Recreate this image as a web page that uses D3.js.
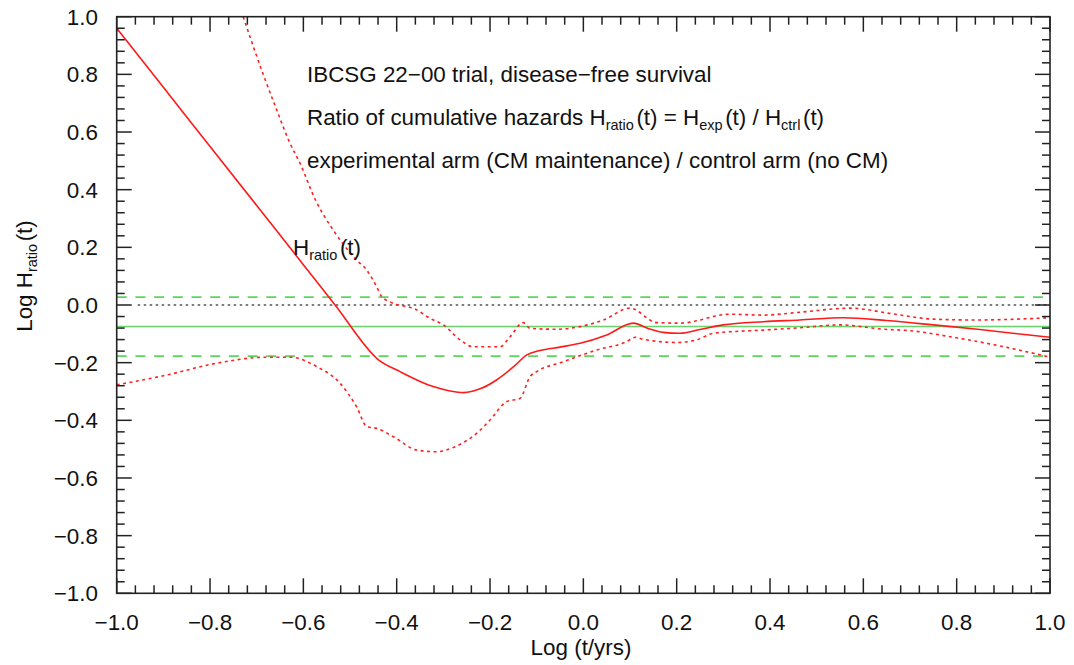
<!DOCTYPE html>
<html>
<head>
<meta charset="utf-8">
<script src="https://cdn.jsdelivr.net/npm/d3@7"></script>
<style>
  html, body { margin: 0; padding: 0; background: #fff; }
  svg text { font-family: "Liberation Sans", Arial, sans-serif; fill: #111; }
</style>
</head>
<body>
<svg id="chart" width="1074" height="665"></svg>
<script>
// Log cumulative-hazard ratio curve (x = log10 t in years)
const ratioX = [-1.0, -0.9, -0.8, -0.7, -0.6, -0.532, -0.439, -0.393, -0.322, -0.286, -0.257, -0.22, -0.186, -0.15, -0.121, -0.093, -0.05, -0.007, 0.05, 0.107, 0.14, 0.171, 0.207, 0.25, 0.3, 0.386, 0.464, 0.557, 0.65, 0.75, 0.85, 0.93, 1.0];
const ratioY = [0.96, 0.755, 0.55, 0.345, 0.14, 0.0, -0.19, -0.231, -0.283, -0.298, -0.304, -0.29, -0.26, -0.215, -0.173, -0.158, -0.146, -0.133, -0.104, -0.063, -0.082, -0.095, -0.098, -0.085, -0.069, -0.058, -0.052, -0.044, -0.054, -0.069, -0.085, -0.1, -0.112];

// Upper confidence band
const upperX = [-0.729, -0.687, -0.657, -0.629, -0.607, -0.574, -0.536, -0.486, -0.464, -0.443, -0.432, -0.414, -0.357, -0.329, -0.3, -0.264, -0.236, -0.179, -0.157, -0.129, -0.114, -0.057, -0.007, 0.043, 0.1, 0.157, 0.207, 0.314, 0.386, 0.464, 0.571, 0.664, 0.75, 0.843, 1.0];
const upperY = [1.0, 0.804, 0.676, 0.562, 0.491, 0.364, 0.26, 0.156, 0.121, 0.063, 0.029, 0.011, -0.017, -0.046, -0.069, -0.121, -0.145, -0.145, -0.11, -0.061, -0.081, -0.084, -0.075, -0.052, -0.011, -0.061, -0.063, -0.032, -0.035, -0.025, -0.011, -0.031, -0.049, -0.052, -0.044];

// Lower confidence band
const lowerX = [-1.0, -0.893, -0.786, -0.679, -0.629, -0.571, -0.521, -0.486, -0.464, -0.443, -0.407, -0.357, -0.314, -0.28, -0.221, -0.2, -0.164, -0.136, -0.114, -0.1, -0.043, 0.029, 0.093, 0.111, 0.129, 0.2, 0.243, 0.279, 0.386, 0.464, 0.55, 0.643, 0.7, 0.786, 0.893, 1.0];
const lowerY = [-0.277, -0.243, -0.202, -0.181, -0.181, -0.214, -0.272, -0.353, -0.422, -0.428, -0.457, -0.503, -0.509, -0.495, -0.434, -0.399, -0.335, -0.324, -0.248, -0.231, -0.197, -0.156, -0.127, -0.112, -0.119, -0.13, -0.121, -0.098, -0.087, -0.079, -0.069, -0.084, -0.089, -0.11, -0.142, -0.181];

// Reference levels: overall log ratio and its band, plus zero
const meanLevel = -0.075;
const bandLevels = [0.027, -0.177];
const zeroLevel = 0.0;

// Axis ticks
const xTicks = [-1.0, -0.8, -0.6, -0.4, -0.2, 0.0, 0.2, 0.4, 0.6, 0.8, 1.0];
const yTicks = [-1.0, -0.8, -0.6, -0.4, -0.2, 0.0, 0.2, 0.4, 0.6, 0.8, 1.0];

const svg = d3.select("#chart");
const L = 116.7, R = 1050, T = 16.7, B = 593.3;
const x = d3.scaleLinear().domain([-1, 1]).range([L, R]);
const y = d3.scaleLinear().domain([-1, 1]).range([B, T]);

const FS = 22.4, SUB = 14.5, SUBDY = 5;
const fmt = v => (v < 0 ? "\u2212" : "") + Math.abs(v).toFixed(1);

const plot = svg.append("g");
plot.append("clipPath").attr("id", "clip")
  .append("rect").attr("x", L).attr("y", T).attr("width", R - L).attr("height", B - T);
const inner = plot.append("g").attr("clip-path", "url(#clip)");

// Horizontal reference lines
inner.append("line").attr("x1", x(-0.955)).attr("x2", R)
  .attr("y1", y(zeroLevel)).attr("y2", y(zeroLevel))
  .attr("stroke", "#555").attr("stroke-width", 1.6).attr("stroke-dasharray", "2.5,3.5");
bandLevels.forEach(v => {
  inner.append("line").attr("x1", L).attr("x2", R)
    .attr("y1", y(v)).attr("y2", y(v))
    .attr("stroke", "#5fd35f").attr("stroke-width", 1.8).attr("stroke-dasharray", "10,8.7");
});
inner.append("line").attr("x1", L).attr("x2", R)
  .attr("y1", y(meanLevel)).attr("y2", y(meanLevel))
  .attr("stroke", "#6ad46a").attr("stroke-width", 1.5);

const line = d3.line().x(d => x(d[0])).y(d => y(d[1])).curve(d3.curveMonotoneX);

inner.append("path").datum(upperX.map((v, i) => [v, upperY[i]]))
  .attr("d", line).attr("fill", "none").attr("stroke", "#ff2020")
  .attr("stroke-width", 1.6).attr("stroke-dasharray", "3,3.5");
inner.append("path").datum(lowerX.map((v, i) => [v, lowerY[i]]))
  .attr("d", line).attr("fill", "none").attr("stroke", "#ff2020")
  .attr("stroke-width", 1.6).attr("stroke-dasharray", "3,3.5");
inner.append("path").datum(ratioX.map((v, i) => [v, ratioY[i]]))
  .attr("d", line)
  .attr("fill", "none").attr("stroke", "#ff1a1a").attr("stroke-width", 1.6);

// Frame and inward ticks on all four sides
const tickCol = "#222";
plot.append("rect").attr("x", L).attr("y", T).attr("width", R - L).attr("height", B - T)
  .attr("fill", "none").attr("stroke", tickCol).attr("stroke-width", 1.6);

const minorX = d3.range(-1, 1.0001, 0.04).map(v => +v.toFixed(2));
const minorY = d3.range(-1, 1.0001, 0.04).map(v => +v.toFixed(2));
const isMajor = v => Math.abs(v * 5 - Math.round(v * 5)) < 1e-6;

const tg = plot.append("g").attr("stroke", tickCol).attr("stroke-width", 1.5);
minorX.forEach(v => {
  const len = isMajor(v) ? 15 : 8;
  tg.append("line").attr("x1", x(v)).attr("x2", x(v)).attr("y1", B).attr("y2", B - len);
  tg.append("line").attr("x1", x(v)).attr("x2", x(v)).attr("y1", T).attr("y2", T + len);
});
minorY.forEach(v => {
  const len = isMajor(v) ? 15 : 8;
  tg.append("line").attr("x1", L).attr("x2", L + len).attr("y1", y(v)).attr("y2", y(v));
  tg.append("line").attr("x1", R).attr("x2", R - len).attr("y1", y(v)).attr("y2", y(v));
});

// Tick labels
xTicks.forEach(v => {
  svg.append("text").attr("x", x(v)).attr("y", 630).attr("text-anchor", "middle")
    .attr("font-size", FS).text(fmt(v));
});
yTicks.forEach(v => {
  svg.append("text").attr("x", 98).attr("y", y(v) + 8).attr("text-anchor", "end")
    .attr("font-size", FS).text(fmt(v));
});

// Axis titles
svg.append("text").attr("x", 581).attr("y", 655).attr("text-anchor", "middle")
  .attr("font-size", FS).text("Log (t/yrs)");

function withSub(sel, parts) {
  // parts: array of [text, isSubscript]; a small gap follows each subscript
  let sub = false;
  parts.forEach(([t, s]) => {
    const ts = sel.append("tspan").text(t);
    if (s && !sub) ts.attr("font-size", SUB).attr("dy", SUBDY);
    else if (!s && sub) ts.attr("dy", -SUBDY).attr("dx", 2.5);
    sub = s;
  });
}

const yt = svg.append("text").attr("transform", "translate(32,276) rotate(-90)")
  .attr("text-anchor", "middle").attr("font-size", FS);
withSub(yt, [["Log H", false], ["ratio", true], ["(t)", false]]);

// Annotation block
const ax = 307;
svg.append("text").attr("x", ax).attr("y", 81.5).attr("font-size", FS)
  .text("IBCSG 22\u221200 trial, disease\u2212free survival");

const t2 = svg.append("text").attr("x", ax).attr("y", 125).attr("font-size", FS);
withSub(t2, [["Ratio of cumulative hazards H", false], ["ratio", true], ["(t) = H", false],
             ["exp", true], ["(t) / H", false], ["ctrl", true], ["(t)", false]]);

svg.append("text").attr("x", ax).attr("y", 168).attr("font-size", FS)
  .text("experimental arm (CM maintenance) / control arm (no CM)");

// Curve label
const hl = svg.append("text").attr("x", 293).attr("y", 255).attr("font-size", FS);
withSub(hl, [["H", false], ["ratio", true], ["(t)", false]]);
</script>
</body>
</html>
